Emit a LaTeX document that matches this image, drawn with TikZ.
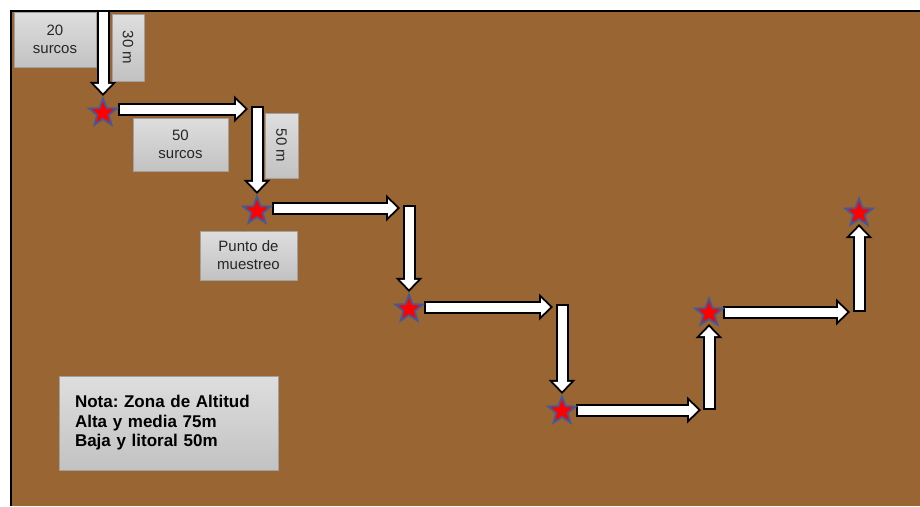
\documentclass[tikz,border=0pt]{standalone}
\usepackage{fontspec}
\setmainfont{Liberation Sans}
\usetikzlibrary{calc,arrows.meta,shapes.geometric,positioning}
\definecolor{tierra}{RGB}{153,102,51}
\definecolor{bordeazul}{RGB}{68,90,150}
\definecolor{grisclaro}{RGB}{222,222,222}
\definecolor{grisoscuro}{RGB}{194,194,194}
\definecolor{grisborde}{RGB}{160,160,160}
\pgfdeclarelayer{fondo}
\pgfdeclarelayer{flechas}
\pgfsetlayers{fondo,flechas,main}
\tikzset{
  estrella/.style={star, star points=5, star point ratio=2.4, minimum size=29pt,
    inner sep=0pt, fill=red, draw=bordeazul, line width=1.8pt},
  caja/.style={draw=grisborde, top color=grisclaro, bottom color=grisoscuro,
    text=black!85, align=center, inner sep=0pt, font=\fontsize{15}{18}\selectfont},
  flechaext/.style 2 args={draw=black, line width=13pt, shorten <=#1, shorten >=#2,
    -{Triangle[length=14pt,width=27pt,line width=0pt]}},
  flechaint/.style 2 args={draw=white, line width=9pt, shorten <=#1+2pt, shorten >=#2+2.8pt,
    -{Triangle[length=9.2pt,width=17.8pt,line width=0pt]}},
}
% flecha de bloque: desde, hasta, separacion inicial, separacion final
\newcommand{\flecha}[4]{%
  \draw[flechaext={#3}{#4}] (#1) -- (#2);
  \draw[flechaint={#3}{#4}] (#1) -- (#2);
}

\begin{document}
\begin{tikzpicture}[x=1pt,y=-1pt]
\useasboundingbox (0,0) rectangle (920,506);

\begin{pgfonlayer}{fondo}
\fill[white] (0,0) rectangle (920,506);
\fill[tierra] (11,11) rectangle (920,506);
\draw[line width=2pt] (11,506) -- (11,11) -- (920,11);
\end{pgfonlayer}

%puntos de muestreo
\foreach \n/\x/\y in {s1/103/113, s2/257/211, s3/409/309, s4/562/411, s5/709/313, s6/859/213}
{
    \node[estrella] (\n) at (\x,\y) {};
};

%esquinas del recorrido
\coordinate (c0) at (103,12);
\coordinate (c1) at (257,109);
\coordinate (c2) at (409,208);
\coordinate (c3) at (562,307);
\coordinate (c4) at (709,410);
\coordinate (c5) at (859,312);

\begin{pgfonlayer}{flechas}
\flecha{c0}{s1}{-2pt}{0pt}
\flecha{s1.center |- c1}{c1}{15pt}{9pt}
\flecha{c1}{s2}{-3pt}{0pt}
\flecha{s2.center |- c2}{c2}{15pt}{9pt}
\flecha{c2}{s3}{-3pt}{0pt}
\flecha{s3.center |- c3}{c3}{15pt}{9pt}
\flecha{c3}{s4}{-3pt}{0pt}
\flecha{s4.center |- c4}{c4}{14pt}{8pt}
\flecha{c4}{s5}{0pt}{4pt}
\flecha{s5.center |- c5}{c5}{14pt}{9pt}
\flecha{c5}{s6}{0pt}{4pt}
\end{pgfonlayer}

%etiquetas
\node[caja, minimum width=82pt, minimum height=55pt] (b20) at (55,39.5) {20\\surcos};
\node[caja, rotate=-90, minimum width=67pt, minimum height=32pt] (b30) at (128,47.5) {30 m};
\node[caja, minimum width=95pt, minimum height=53pt] (b50s) at (180.5,144.5) {50\\surcos};
\node[caja, rotate=-90, minimum width=65pt, minimum height=33pt] (b50m) at (281.5,145.5) {50 m};
\node[caja, minimum width=97pt, minimum height=49pt] (bpunto) at (248.5,255.5) {Punto de\\muestreo};
\node[caja, text width=187pt, inner xsep=16pt, minimum height=94pt, align=left, text=black,
  font=\frenchspacing\bfseries\fontsize{17}{19.5}\selectfont] (nota) at (168.5,423)
  {Nota: Zona de Altitud\\Alta y media 75m\\Baja y litoral 50m};
\end{tikzpicture}
\end{document}
